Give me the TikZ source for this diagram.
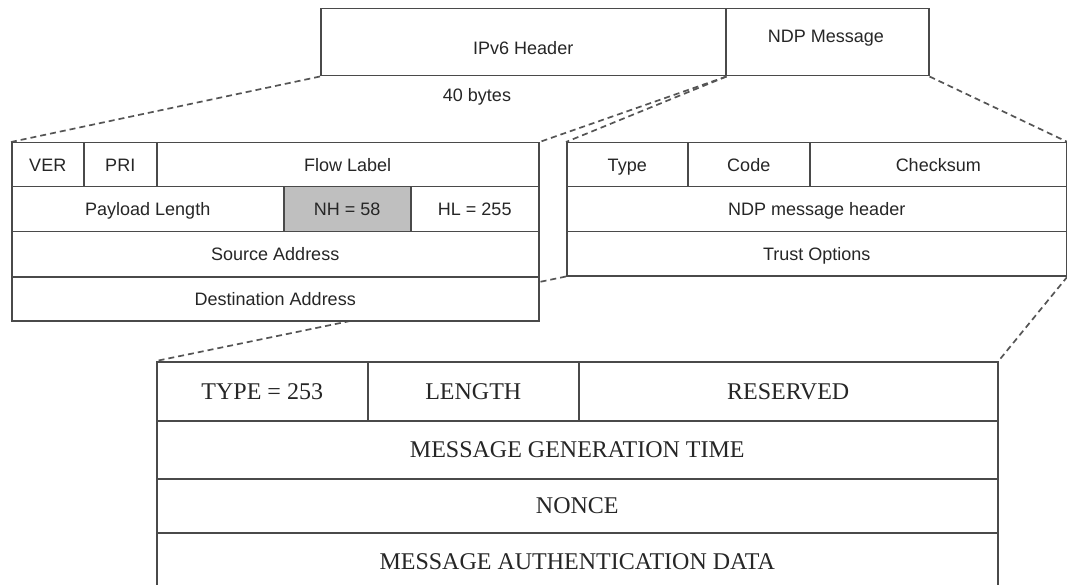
\documentclass[tikz,border=0pt]{standalone}
\usepackage{fontspec}
\setmainfont{Liberation Sans}
\newfontfamily\fieldserif{Liberation Serif}
\usetikzlibrary{backgrounds}

\definecolor{edge}{HTML}{4A4A4A}
\definecolor{zoomgray}{HTML}{555555}
\definecolor{nhfill}{HTML}{BFBFBF}
\definecolor{ink}{HTML}{262626}

\tikzset{
  field/.style={draw=edge, line width=1.5pt, fill=white, inner sep=0pt,
                anchor=north west, text=ink, font=\fontsize{18}{20}\selectfont,
                text height=12.9pt, text depth=0pt},
  tfield/.style={field, font=\fieldserif\fontsize{24}{26}\selectfont,
                 text height=15.9pt, text depth=0pt},
  nhfield/.style={field, fill=nhfill},
  zoomline/.style={draw=zoomgray, line width=1.7pt, dash pattern=on 6pt off 4pt},
  note/.style={text=ink, font=\fontsize{18}{20}\selectfont, inner sep=0pt,
               text height=12.9pt, text depth=0pt},
}

% \fieldbox[style]{name}{x1}{y1}{x2}{y2}{text}
\newcommand\fieldbox[7][field]{%
  \node[#1, minimum width={(#5-#3)*1pt}, minimum height={(#6-#4)*1pt}] (#2) at (#3,#4) {#7};}

\begin{document}
\begin{tikzpicture}[x=1pt, y=-1pt]
  \useasboundingbox (0,0) rectangle (1067,585);
  \clip (0,0) rectangle (1067,585);

  % packet overview
  \fieldbox{ipv6}{320}{8}{725}{75}{\raisebox{-5.5pt}{IPv6 Header}}
  \fieldbox{ndp}{725}{8}{928}{75}{}
  \node[note] (ndptext) at (826,36) {NDP Message};
  \node[note] (size) at (477,95) {40 bytes};

  % IPv6 header fields
  \fieldbox{ver}{11}{142}{83}{186}{VER}
  \fieldbox{pri}{83}{142}{156}{186}{PRI}
  \fieldbox{flow}{156}{142}{538}{186}{Flow Label}
  \fieldbox{plen}{11}{186}{283}{231}{Payload Length}
  \fieldbox[nhfield]{nh}{283}{186}{410}{231}{NH = 58}
  \fieldbox{hl}{410}{186}{538}{231}{HL = 255}
  \fieldbox{src}{11}{231}{538}{276}{Source Address}
  \fieldbox{dst}{11}{276}{538}{320}{Destination Address}

  % NDP message fields
  \fieldbox{type}{566}{142}{687}{186}{Type}
  \fieldbox{code}{687}{142}{809}{186}{Code}
  \fieldbox{chk}{809}{142}{1066}{186}{Checksum}
  \fieldbox{ndph}{566}{186}{1066}{231}{NDP message header}
  \fieldbox{trust}{566}{231}{1066}{275}{Trust Options}

  % trust option fields
  \fieldbox[tfield]{otype}{156}{361}{367}{420}{TYPE = 253}
  \fieldbox[tfield]{olen}{367}{361}{578}{420}{LENGTH}
  \fieldbox[tfield]{ores}{578}{361}{997}{420}{RESERVED}
  \fieldbox[tfield]{mgt}{156}{420}{997}{478}{MESSAGE GENERATION TIME}
  \fieldbox[tfield]{nonce}{156}{478}{997}{532}{NONCE}
  \fieldbox[tfield]{mad}{156}{532}{997}{590}{MESSAGE AUTHENTICATION DATA}

  % expansion guides
  \begin{scope}[on background layer]
    \draw[zoomline] (ipv6.south west) -- (ver.north west);
    \draw[zoomline] (ipv6.south east) -- (flow.north east);
    \draw[zoomline] (ipv6.south east) -- (type.north west);
    \draw[zoomline] (ndp.south east) -- (chk.north east);
    \draw[zoomline] (trust.south west) -- (otype.north west);
    \draw[zoomline] (trust.south east) -- (ores.north east);
  \end{scope}
\end{tikzpicture}
\end{document}
